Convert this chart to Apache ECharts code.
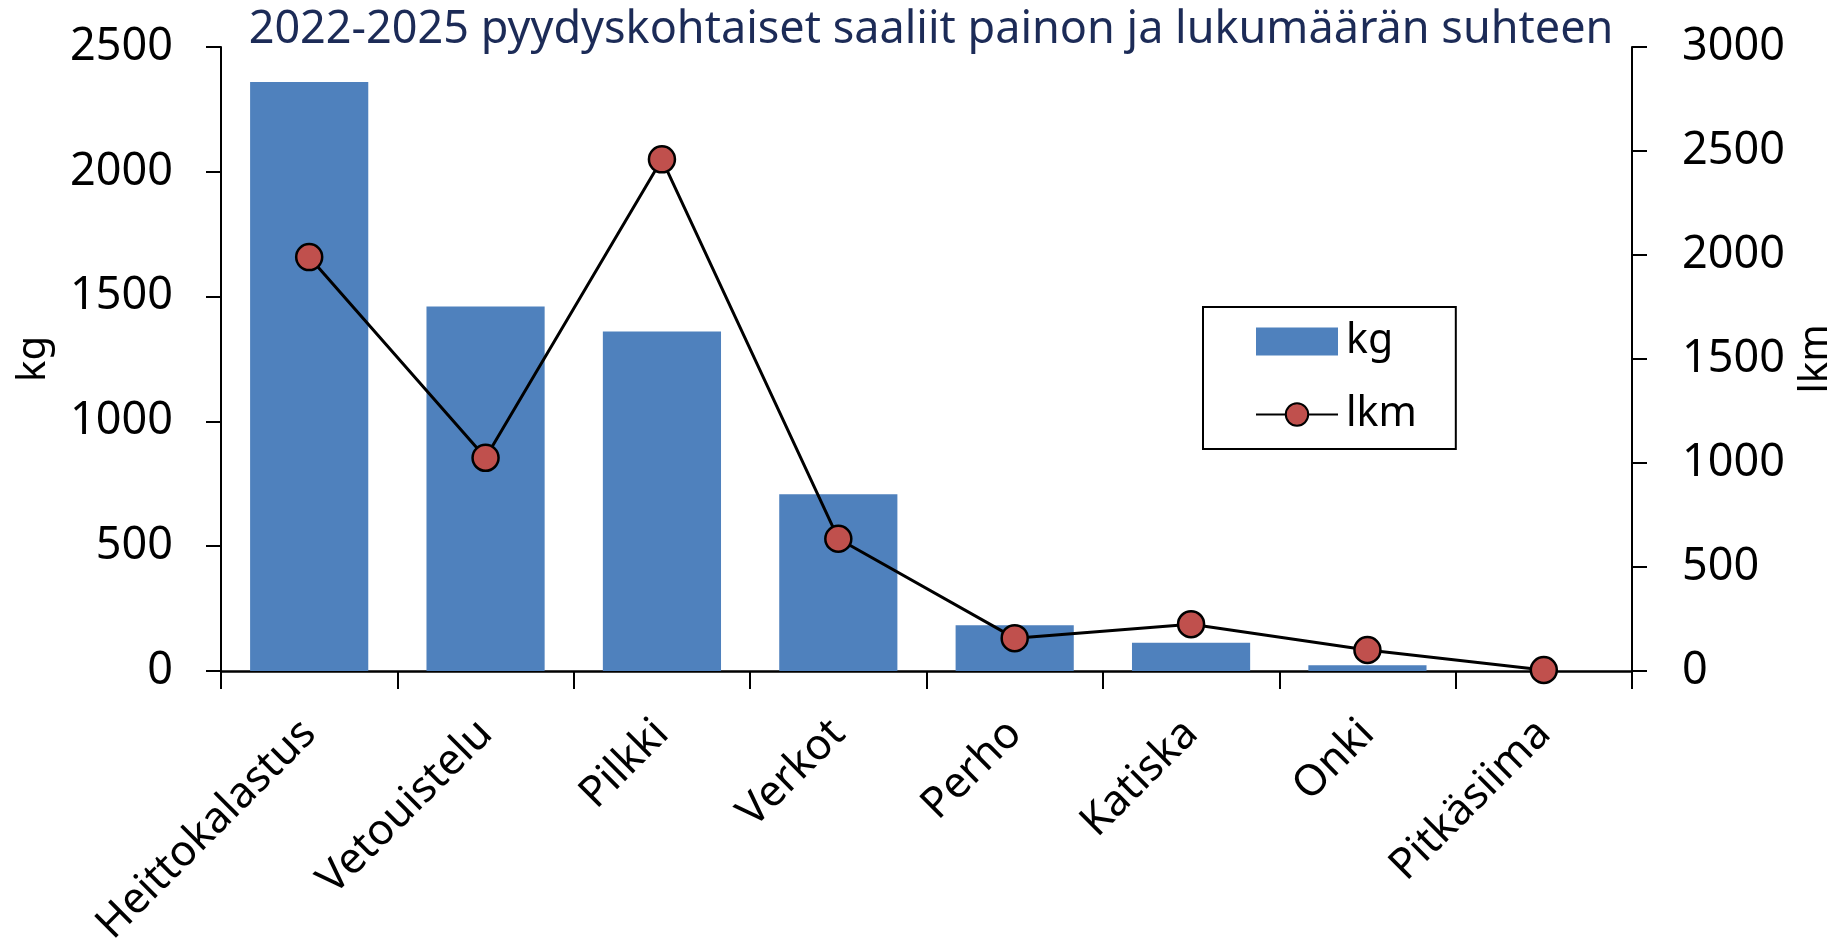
<!DOCTYPE html>
<html>
<head>
<meta charset="utf-8">
<title>pyydyskohtaiset saaliit</title>
<script src="https://cdn.jsdelivr.net/npm/echarts@6/dist/echarts.min.js"></script>
<style>
  html, body { margin: 0; padding: 0; background: #fff; }
  #chart { width: 1835px; height: 945px; }
</style>
</head>
<body>
<div id="chart"></div>
<script>
// gear types
const categories = ['Heittokalastus', 'Vetouistelu', 'Pilkki', 'Verkot', 'Perho', 'Katiska', 'Onki', 'Pitkäsiima'];
// catch weight (kg), left axis
const kgValues = [2360, 1460, 1360, 708, 183, 113, 23, 0];
// catch count (lkm), right axis
const lkmValues = [1990, 1025, 2460, 636, 158, 225, 101, 5];

const font = 'Noto Sans';
const plain = v => String(v);

const chart = echarts.init(document.getElementById('chart'));
chart.setOption({
    animation: false,
    backgroundColor: '#fff',
    title: {
        text: '2022-2025 pyydyskohtaiset saaliit painon ja lukumäärän suhteen',
        left: 926,
        textAlign: 'center',
        top: 3,
        textStyle: { fontFamily: font, fontSize: 45, fontWeight: 'normal', color: '#1c2b57' }
    },
    legend: {
        orient: 'vertical',
        left: 1203,
        top: 307,
        padding: [14, 39, 14, 52],
        borderColor: '#000',
        borderWidth: 2,
        itemWidth: 82,
        itemHeight: 28,
        itemGap: 32,
        textStyle: { fontFamily: font, fontSize: 41, lineHeight: 40, color: '#000', padding: [0, 0, 0, 3] },
        data: [{ name: 'kg', icon: 'rect' }, 'lkm']
    },
    grid: { left: 221, right: 203, top: 47, bottom: 274, outerBoundsMode: 'none' },
    xAxis: {
        type: 'category',
        data: categories,
        axisLine: { lineStyle: { color: '#000', width: 2.5 } },
        axisTick: { show: true, length: 18, lineStyle: { color: '#000', width: 2 } },
        axisLabel: { rotate: 45, margin: 56, fontFamily: font, fontSize: 43, color: '#000' }
    },
    yAxis: [
        {
            type: 'value',
            name: 'kg',
            nameLocation: 'middle',
            nameRotate: 90,
            nameGap: 167,
            nameTextStyle: { fontFamily: font, fontSize: 40, color: '#000' },
            min: 0, max: 2500, interval: 500,
            splitLine: { show: false },
            axisLine: { show: true, lineStyle: { color: '#000', width: 2 } },
            axisTick: { show: true, length: 15, lineStyle: { color: '#000', width: 2 } },
            axisLabel: { margin: 48, formatter: plain, fontFamily: font, fontSize: 45, color: '#000' }
        },
        {
            type: 'value',
            name: 'lkm',
            nameLocation: 'middle',
            nameRotate: 90,
            nameGap: 154,
            nameTextStyle: { fontFamily: font, fontSize: 40, color: '#000' },
            min: 0, max: 3000, interval: 500,
            splitLine: { show: false },
            axisLine: { show: true, lineStyle: { color: '#000', width: 2 } },
            axisTick: { show: true, length: 15, lineStyle: { color: '#000', width: 2 } },
            axisLabel: { margin: 50, formatter: plain, fontFamily: font, fontSize: 45, color: '#000' }
        }
    ],
    series: [
        {
            name: 'kg',
            type: 'bar',
            yAxisIndex: 0,
            data: kgValues,
            barCategoryGap: '33%',
            itemStyle: { color: '#4f81bd' }
        },
        {
            name: 'lkm',
            type: 'line',
            yAxisIndex: 1,
            data: lkmValues,
            symbol: 'circle',
            symbolSize: 26,
            lineStyle: { color: '#000', width: 3 },
            itemStyle: { color: '#c0504d', borderColor: '#000', borderWidth: 2.5 }
        }
    ]
});
</script>
</body>
</html>
